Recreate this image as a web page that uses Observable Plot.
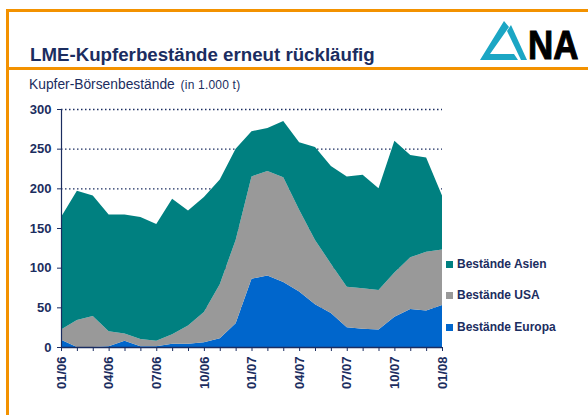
<!DOCTYPE html>
<html>
<head>
<meta charset="utf-8">
<script src="https://cdn.jsdelivr.net/npm/d3@7"></script>
<script src="https://cdn.jsdelivr.net/npm/@observablehq/plot@0.6"></script>
<style>
  html, body { margin: 0; padding: 0; background: #fff; }
  body { width: 588px; height: 415px; position: relative; overflow: hidden; font-family: "Liberation Sans", Arial, sans-serif; }
  .orange { position: absolute; background: #f39200; }
  #title { position: absolute; left: 30px; top: 44px; font-size: 18.7px; font-weight: bold; color: #1b2d60; white-space: nowrap; }
  #sub { position: absolute; left: 29px; top: 77px; font-size: 13.8px; color: #1b2d60; white-space: nowrap; }
  #sub small { font-size: 12px; letter-spacing: 0.2px; margin-left: 2px; }
  #chart { position: absolute; left: 0; top: 100px; }
  .leg { position: absolute; left: 446px; font-size: 12px; font-weight: bold; color: #1b2d60; white-space: nowrap; }
  .leg span.sw { display: inline-block; width: 7px; height: 7px; margin-right: 4px; vertical-align: 0px; }
  #logo { position: absolute; left: 476px; top: 14px; }
  #na { position: absolute; left: 528px; top: 22px; font-size: 38px; line-height: 44px; font-weight: bold; color: #000;
        -webkit-text-stroke: 1px #000; transform: scale(0.92, 1.06); transform-origin: 0 0; white-space: nowrap; }
</style>
</head>
<body>
<div class="orange" style="left:7px; top:9px; width:581px; height:3px;"></div>
<div class="orange" style="left:7px; top:67px; width:581px; height:3px;"></div>
<div class="orange" style="left:6px; top:9px; width:3px; height:406px;"></div>
<div id="title">LME-Kupferbestände erneut rückläufig</div>
<div id="sub">Kupfer-Börsenbestände <small>(in 1.000 t)</small></div>
<svg id="logo" width="56" height="50" viewBox="0 0 56 50">
  <polygon points="28,7 33,13 14,40 38,40 42,46 4,46" fill="#1ba6c4"/>
  <polygon points="31,17 35,11 51,46 45,46" fill="#1ba6c4"/>
</svg>
<div id="na">NA</div>
<div id="chart"></div>
<div id="legend"></div>
<script>
const months = ["01/06","02/06","03/06","04/06","05/06","06/06","07/06","08/06","09/06","10/06","11/06","12/06",
                "01/07","02/07","03/07","04/07","05/07","06/07","07/07","08/07","09/07","10/07","11/07","12/07","01/08"];
const europa = [9,0,0,1,8,1,1,4,4,6,11,30,86,90,82,70,54,43,25,23,22,38,48,46,53];
const usa    = [13,34,39,19,9,9,7,12,23,38,68,105,129,132,132,103,81,62,51,51,50,56,65,74,70];
const asien  = [142,163,152,147,150,154,147,171,145,145,132,115,57,54,71,85,117,123,139,143,128,166,129,119,68];
const seriesNames = ["Bestände Europa", "Bestände USA", "Bestände Asien"];
const seriesColors = ["#0066cc", "#999999", "#008080"];
const yTicks = [0, 50, 100, 150, 200, 250, 300];
const navy = "#1b2d60";

const rows = [];
[europa, usa, asien].forEach((vals, s) => {
  vals.forEach((v, i) => rows.push({i, value: v, series: seriesNames[s]}));
});

const chart = Plot.plot({
  width: 588,
  height: 315,
  marginLeft: 61,
  marginRight: 146,
  marginTop: 9,
  marginBottom: 68,
  style: {fontFamily: "Liberation Sans, Arial, sans-serif", background: "transparent", overflow: "visible"},
  x: {type: "linear", domain: [0, months.length - 1]},
  y: {domain: [0, 300]},
  color: {domain: seriesNames, range: seriesColors},
  marks: [
    Plot.ruleY(yTicks.filter(d => d > 0), {stroke: navy, strokeWidth: 1.3, strokeDasharray: "1.5,2.5"}),
    Plot.areaY(rows, {x: "i", y: "value", fill: "series", z: "series"}),
    Plot.ruleX([0], {stroke: navy, strokeWidth: 1.2}),
    Plot.ruleY([0], {stroke: navy, strokeWidth: 1.5}),
    Plot.axisY({ticks: yTicks, tickSize: 4, tickPadding: 6, stroke: navy, fill: navy, fontSize: 13, fontWeight: "bold", label: null}),
    Plot.axisX({ticks: d3.range(months.length), tickSize: 4, tickFormat: () => "", stroke: navy, label: null}),
    Plot.axisX({ticks: d3.range(0, months.length, 3), tickSize: 0, tickPadding: 9, tickRotate: -90,
                tickFormat: i => months[i], fill: navy, fontSize: 13, fontWeight: "bold", label: null})
  ]
});
document.getElementById("chart").appendChild(chart);

const legTops = {"Bestände Asien": 257, "Bestände USA": 288, "Bestände Europa": 320};
const leg = document.getElementById("legend");
[2, 1, 0].forEach(s => {
  const d = document.createElement("div");
  d.className = "leg";
  d.style.top = legTops[seriesNames[s]] + "px";
  d.innerHTML = `<span class="sw" style="background:${seriesColors[s]}"></span>${seriesNames[s]}`;
  leg.appendChild(d);
});
</script>
</body>
</html>
